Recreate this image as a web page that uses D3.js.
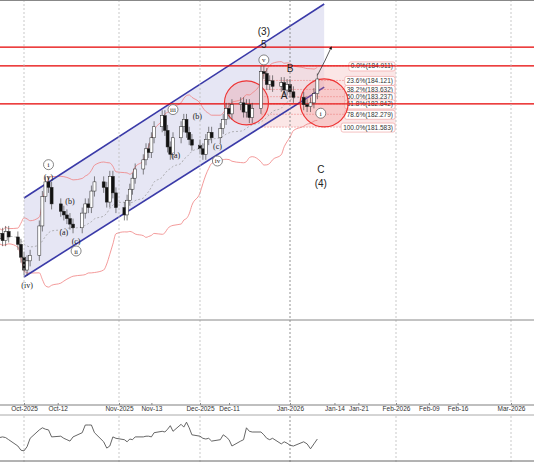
<!DOCTYPE html>
<html><head><meta charset="utf-8">
<script src="https://cdn.jsdelivr.net/npm/d3@7"></script>
<style>body{margin:0;background:#fff}svg{display:block;font-family:"Liberation Sans",Arial,sans-serif}</style>
</head><body><div id="chart"></div>
<script>
// trading-day closes starting Mon 22 Sep 2025
var closes = [
  175.5,175.8,175.4,175.9,175.6, 175.2,174.5,173.8,174.3,174.6,
  176.2,177.8,178.6,178.3,177.4, 177.0,176.8,176.6,176.3,176.1,
  176.9,177.4,177.2,178.1,178.6, 178.3,177.5,178.9,178.0,177.2,
  176.8,177.6,178.2,178.8,179.3, 179.8,180.4,180.2,181.0,181.6,
  182.2,181.4,180.5,180.1,181.0, 181.6,182.0,181.3,180.9,180.6,
  180.4,180.1,180.9,181.3,181.0, 181.5,182.0,182.6,182.3,182.8,
  182.9,182.4,182.8,182.1,182.6, 184.6,184.5,183.9,184.1,183.8,
  184.0,183.6,183.9,183.5,183.2, 182.8,182.7,182.9,183.4,184.2
];
var osc = [
  53,52,53,52,49,40,34, 33,39,51,63,66, 64,63,53,54,51,49,
  47,53,59,70,70,70, 59,46,37,40,53,51, 49,46,50,49,53,53,
  54,54,53,59,61,60, 64,69,61,71,67,74, 66,56,54,51,50,51,
  47,49,56,53,49,40, 47,49,66,61,60,60, 56,51,49,51,43,46,
  44,41,40,46,43,36,43,50
];
var hLevels = [185.94, 184.911, 182.842];
var fibPct = ["0.0%","23.6%","38.2%","50.0%","61.8%","78.6%","100.0%"];
var fibVal = [184.911,184.121,183.632,183.237,182.842,182.279,181.583];
var tickDates = ["2025-10-01","2025-10-12","2025-11-01","2025-11-13","2025-12-01","2025-12-11","2026-01-01","2026-01-14","2026-01-21","2026-02-01","2026-02-09","2026-02-16","2026-03-01"];
var tickLabels = ["Oct-2025","Oct-12","Nov-2025","Nov-13","Dec-2025","Dec-11","Jan-2026","Jan-14","Jan-21","Feb-2026","Feb-09","Feb-16","Mar-2026"];
var channel = {start:"2025-10-01", end:"2026-01-11", upper:[177.72,188.28], lower:[173.42,183.76]};
var waveLabels = [
  {d:"2025-12-23",p:186.6,t:"(3)"},{d:"2025-12-23",p:185.9,t:"5"},{d:"2025-12-23",p:185.1,t:"v",c:1},
  {d:"2026-01-01",p:184.6,t:"B"},{d:"2025-12-30",p:183.1,t:"A"},{d:"2026-01-10",p:182.2,t:"i",c:1},
  {d:"2026-01-10",p:179.1,t:"C"},{d:"2026-01-10",p:178.3,t:"(4)"},
  {d:"2025-11-21",p:182.4,t:"iii",c:1},{d:"2025-11-22",p:179.9,t:"(a)"},{d:"2025-11-30",p:182.0,t:"(b)"},
  {d:"2025-12-07",p:180.4,t:"(c)"},{d:"2025-12-07",p:179.6,t:"iv",c:1},
  {d:"2025-10-09",p:179.4,t:"i",c:1},{d:"2025-10-09",p:178.7,t:"(v)"},{d:"2025-10-16",p:177.4,t:"(b)"},
  {d:"2025-10-14",p:175.7,t:"(a)"},{d:"2025-10-18",p:175.2,t:"(c)"},{d:"2025-10-18",p:174.7,t:"ii",c:1},
  {d:"2025-10-02",p:172.8,t:"(iv)"}
];

var W = 534, H = 462, mainBottom = 320;
var pd = d3.timeParse("%Y-%m-%d");
var dates = [];
for (var t = pd("2025-09-22"); dates.length < closes.length; t = d3.timeDay.offset(t, 1)) {
  if (t.getDay() > 0 && t.getDay() < 6) dates.push(t);
}
var x = d3.scaleTime()
  .domain(["2025-10-01","2025-11-01","2025-12-01","2026-01-01","2026-02-01","2026-03-01"].map(pd))
  .range([24,119,200,290,396,511]);
var y = d3.scaleLinear().domain([171.08,188.5]).range([mainBottom,0]);
var yo = d3.scaleLinear().domain([20,80]).range([460,418]);

var svg = d3.select("#chart").append("svg").attr("width",W).attr("height",H);
var main = svg.append("g");
main.append("clipPath").attr("id","mc").append("rect").attr("width",W).attr("height",mainBottom);
var g = main.append("g").attr("clip-path","url(#mc)");

// grid
svg.selectAll("line.grid").data(tickDates.filter(function(d,i){return tickLabels[i].indexOf("20")>0;}))
  .enter().append("line").attr("x1",function(d){return x(pd(d));}).attr("x2",function(d){return x(pd(d));})
  .attr("y1",0).attr("y2",H).attr("stroke",function(d){return d=="2026-01-01"?"#777":"#bbb";})
  .attr("stroke-dasharray","2,2").attr("stroke-width",0.8);

// channel
var cx0 = x(pd(channel.start)), cx1 = x(pd(channel.end));
g.append("polygon").attr("points",[[cx0,y(channel.upper[0])],[cx1,y(channel.upper[1])],[cx1,y(channel.lower[1])],[cx0,y(channel.lower[0])]].join(" "))
  .attr("fill","#e6e6f4");

// fib zone
var fx0 = x(pd("2025-12-22")), fx1 = x(pd("2026-02-01"));
g.append("rect").attr("x",fx0).attr("y",y(fibVal[0])).attr("width",fx1-fx0).attr("height",y(fibVal[6])-y(fibVal[0]))
  .attr("fill","#f9d6d6").attr("opacity",0.6);
fibVal.forEach(function(v,i){
  g.append("line").attr("x1",fx0).attr("x2",fx1).attr("y1",y(v)).attr("y2",y(v))
    .attr("stroke","#e88").attr("stroke-dasharray","2,1").attr("stroke-width",0.6);
  var lab = fibPct[i]+"("+v.toFixed(3)+")";
  var tt = g.append("text").attr("x",fx1 - 3).attr("y",y(v)+2.5).attr("text-anchor","end").attr("font-size",6.5).attr("fill","#333").text(lab);
  var bx = tt.node().getBBox();
  g.insert("rect","text:last-of-type").attr("x",bx.x-2).attr("y",bx.y-0.5).attr("width",bx.width+4).attr("height",bx.height+1)
    .attr("rx",2).attr("fill","#fff").attr("stroke","#e99").attr("stroke-width",0.6);
});

// bollinger
var bb = closes.map(function(c,i){
  var w = closes.slice(Math.max(0,i-19), i+1), m = d3.mean(w), s = d3.deviation(w) || 0.8;
  return {d:dates[i], m:m, u:m+2*s, l:m-2*s};
});
var ln = function(k){ return d3.line().curve(d3.curveMonotoneX).x(function(d){return x(d.d);}).y(function(d){return y(d[k]);}); };
g.append("path").datum(bb).attr("d",ln("u")).attr("fill","none").attr("stroke","#f08080").attr("stroke-width",0.8);
g.append("path").datum(bb).attr("d",ln("l")).attr("fill","none").attr("stroke","#f08080").attr("stroke-width",0.8);
g.append("path").datum(bb).attr("d",ln("m")).attr("fill","none").attr("stroke","#999").attr("stroke-dasharray","2,2").attr("stroke-width",0.7);

// channel lines
g.append("line").attr("x1",cx0).attr("y1",y(channel.upper[0])).attr("x2",cx1).attr("y2",y(channel.upper[1])).attr("stroke","#3a3aa8").attr("stroke-width",1.6);
g.append("line").attr("x1",cx0).attr("y1",y(channel.lower[0])).attr("x2",cx1).attr("y2",y(channel.lower[1])).attr("stroke","#3a3aa8").attr("stroke-width",1.6);

// horizontal levels
g.selectAll("line.h").data(hLevels).enter().append("line").attr("x1",0).attr("x2",W)
  .attr("y1",function(d){return y(d);}).attr("y2",function(d){return y(d);}).attr("stroke","#e60000").attr("stroke-width",1.3);

// circles
[["2025-12-17",182.9,22],["2026-01-11",182.9,24]].forEach(function(c){
  g.append("circle").attr("cx",x(pd(c[0]))).attr("cy",y(c[1])).attr("r",c[2])
    .attr("fill","rgba(240,120,120,0.25)").attr("stroke","#e33").attr("stroke-width",1.2);
});

// candles
var cw = 3;
closes.forEach(function(c,i){
  var o = i ? closes[i-1] : c - 0.2, hi = Math.max(o,c)+0.3, lo = Math.min(o,c)-0.3, xx = x(dates[i]);
  g.append("line").attr("x1",xx).attr("x2",xx).attr("y1",y(hi)).attr("y2",y(lo)).attr("stroke","#333").attr("stroke-width",0.6);
  g.append("rect").attr("x",xx-cw/2).attr("width",cw).attr("y",y(Math.max(o,c))).attr("height",Math.max(1,Math.abs(y(o)-y(c))))
    .attr("fill",c>=o?"#fff":"#111").attr("stroke","#222").attr("stroke-width",0.5);
});

// arrow
var last = dates[dates.length-1];
svg.append("defs").append("marker").attr("id","ah").attr("viewBox","0 0 10 10").attr("refX",5).attr("refY",5)
  .attr("markerWidth",4).attr("markerHeight",4).attr("orient","auto").append("path").attr("d","M0,0L10,5L0,10z").attr("fill","#111");
g.append("path").attr("d","M"+x(last)+","+y(184.4)+" Q"+(x(last)+8)+","+y(185.2)+" "+(x(pd("2026-01-13")))+","+y(185.9))
  .attr("fill","none").attr("stroke","#333").attr("stroke-width",0.8).attr("marker-end","url(#ah)");

// wave labels
waveLabels.forEach(function(w){
  var px = x(pd(w.d)), py = y(w.p);
  if (w.c) g.append("circle").attr("cx",px).attr("cy",py-2.5).attr("r",5).attr("fill","#fff").attr("stroke","#555").attr("stroke-width",0.7);
  var big = /^[ABC5]$|\(3\)|\(4\)/.test(w.t);
  g.append("text").attr("x",px).attr("y",py).attr("text-anchor","middle")
    .attr("font-family",big?"Liberation Sans":"Liberation Serif").attr("font-size",big?10:(w.c?7:8)).attr("fill","#222").text(w.t);
});

// panel borders
svg.append("line").attr("x1",0).attr("x2",W).attr("y1",0.5).attr("y2",0.5).attr("stroke","#888");
svg.append("line").attr("x1",0).attr("x2",W).attr("y1",mainBottom).attr("y2",mainBottom).attr("stroke","#888");
svg.append("rect").attr("x",0).attr("y",405).attr("width",W).attr("height",10).attr("fill","#fff");
svg.append("line").attr("x1",0).attr("x2",W).attr("y1",405).attr("y2",405).attr("stroke","#aaa").attr("stroke-width",1.5);
svg.append("line").attr("x1",0).attr("x2",W).attr("y1",415).attr("y2",415).attr("stroke","#aaa");
svg.append("line").attr("x1",0).attr("x2",W).attr("y1",461).attr("y2",461).attr("stroke","#666");

// x axis
var ax = svg.append("g").attr("transform","translate(0,405)")
  .call(d3.axisBottom(x).tickValues(tickDates.map(pd)).tickSize(-2).tickFormat(function(d,i){return tickLabels[i];}));
ax.select(".domain").remove();
ax.selectAll("text").attr("font-size",6.5).attr("fill","#333").attr("dy","0.4em");
ax.selectAll("line").attr("stroke","#888");

// oscillator
svg.append("path").datum(osc).attr("d",d3.line().x(function(d,i){return x(dates[i]);}).y(function(d){return yo(d);}))
  .attr("fill","none").attr("stroke","#555").attr("stroke-width",0.9);
</script></body></html>
